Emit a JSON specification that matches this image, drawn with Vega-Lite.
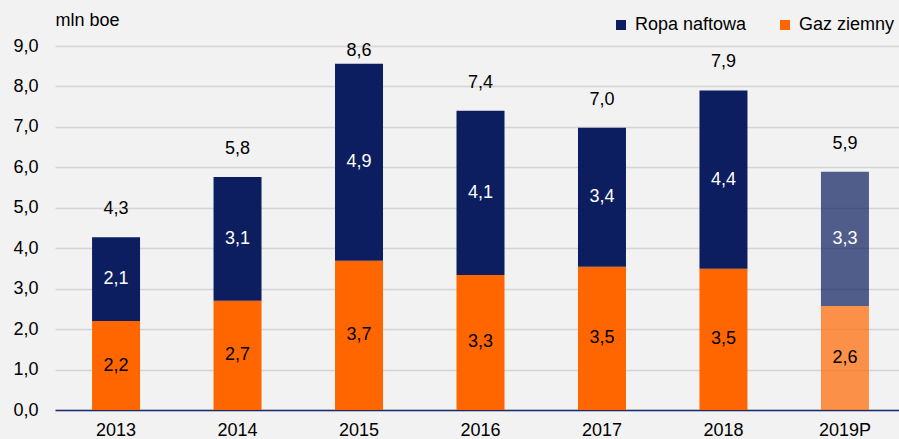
{
  "$schema": "https://vega.github.io/schema/vega-lite/v6.json",
  "width": 851,
  "height": 364,
  "autosize": "none",
  "padding": {"left": 55, "top": 46, "right": 0, "bottom": 29},
  "background": "#f2f2f2",
  "config": {
    "locale": {"number": {"decimal": ",", "thousands": " ", "grouping": [3], "currency": ["", ""]}},
    "view": {"stroke": null},
    "font": "Liberation Sans",
    "text": {"font": "Liberation Sans", "fontSize": 18}
  },
  "data": {
    "values": [
      {"year": "2013", "type": "Gaz ziemny", "value": 2.2},
      {"year": "2013", "type": "Ropa naftowa", "value": 2.07},
      {"year": "2014", "type": "Gaz ziemny", "value": 2.7},
      {"year": "2014", "type": "Ropa naftowa", "value": 3.06},
      {"year": "2015", "type": "Gaz ziemny", "value": 3.69},
      {"year": "2015", "type": "Ropa naftowa", "value": 4.87},
      {"year": "2016", "type": "Gaz ziemny", "value": 3.34},
      {"year": "2016", "type": "Ropa naftowa", "value": 4.06},
      {"year": "2017", "type": "Gaz ziemny", "value": 3.54},
      {"year": "2017", "type": "Ropa naftowa", "value": 3.44},
      {"year": "2018", "type": "Gaz ziemny", "value": 3.49},
      {"year": "2018", "type": "Ropa naftowa", "value": 4.41},
      {"year": "2019P", "type": "Gaz ziemny", "value": 2.57},
      {"year": "2019P", "type": "Ropa naftowa", "value": 3.32}
    ]
  },
  "transform": [
    {"stack": "value", "groupby": ["year"], "sort": [{"field": "type", "order": "ascending"}], "as": ["v0", "v1"]}
  ],
  "encoding": {
    "x": {
      "field": "year", "type": "nominal", "sort": null,
      "scale": {"paddingInner": 0.605, "paddingOuter": 0.305},
      "axis": {
        "title": null, "labelAngle": 0, "ticks": false, "grid": false,
        "domainColor": "#1b2a6b", "domainWidth": 1.5,
        "labelPadding": 11, "labelFontSize": 18, "labelColor": "#000000",
        "labelFont": "Liberation Sans"
      }
    }
  },
  "layer": [
    {
      "mark": {"type": "bar"},
      "encoding": {
        "y": {
          "field": "v0", "type": "quantitative",
          "scale": {"domain": [0, 9], "nice": false},
          "axis": {
            "values": [0, 1, 2, 3, 4, 5, 6, 7, 8, 9], "format": ".1f",
            "ticks": false, "domain": false, "grid": true,
            "gridColor": "#d4d4d4", "gridWidth": 1.5,
            "labelPadding": 17, "labelFontSize": 18, "labelColor": "#000000",
            "labelFont": "Liberation Sans",
            "title": "mln boe", "titleAngle": 0, "titleX": 0, "titleY": -21,
            "titleAlign": "left", "titleBaseline": "alphabetic",
            "titleFontWeight": "normal", "titleFontSize": 18, "titleColor": "#000000",
            "titleFont": "Liberation Sans"
          }
        },
        "y2": {"field": "v1"},
        "color": {
          "field": "type", "type": "nominal",
          "scale": {"domain": ["Ropa naftowa", "Gaz ziemny"], "range": ["#0c1e60", "#ff6600"]},
          "legend": {
            "title": null, "orient": "none", "direction": "horizontal",
            "legendX": 557, "legendY": -30, "padding": 0,
            "symbolType": "square", "symbolSize": 100, "symbolStrokeWidth": 0,
            "labelFontSize": 18, "labelColor": "#000000", "labelFont": "Liberation Sans",
            "labelOffset": 5, "columnPadding": 29
          }
        },
        "opacity": {"condition": {"test": "datum.year == '2019P'", "value": 0.7}, "value": 1}
      }
    },
    {
      "transform": [
        {"fold": ["v0", "v1"], "as": ["edge", "pos"]}
      ],
      "mark": {"type": "text", "baseline": "middle"},
      "encoding": {
        "y": {"field": "pos", "aggregate": "mean", "type": "quantitative"},
        "detail": {"field": "type", "type": "nominal"},
        "text": {"field": "value", "aggregate": "max", "type": "quantitative", "format": ".1f"},
        "color": {"condition": {"test": "datum.type == 'Ropa naftowa'", "value": "#ffffff"}, "value": "#000000"}
      }
    },
    {
      "transform": [
        {"aggregate": [{"op": "sum", "field": "value", "as": "total"}], "groupby": ["year"]},
        {"filter": "datum.year != '2015'"}
      ],
      "mark": {"type": "text", "baseline": "middle", "dy": -28, "color": "#000000"},
      "encoding": {
        "y": {"field": "total", "type": "quantitative"},
        "text": {"field": "total", "type": "quantitative", "format": ".1f"}
      }
    },
    {
      "transform": [
        {"aggregate": [{"op": "sum", "field": "value", "as": "total"}], "groupby": ["year"]},
        {"filter": "datum.year == '2015'"}
      ],
      "mark": {"type": "text", "baseline": "middle", "dy": -13, "color": "#000000"},
      "encoding": {
        "y": {"field": "total", "type": "quantitative"},
        "text": {"field": "total", "type": "quantitative", "format": ".1f"}
      }
    }
  ]
}
